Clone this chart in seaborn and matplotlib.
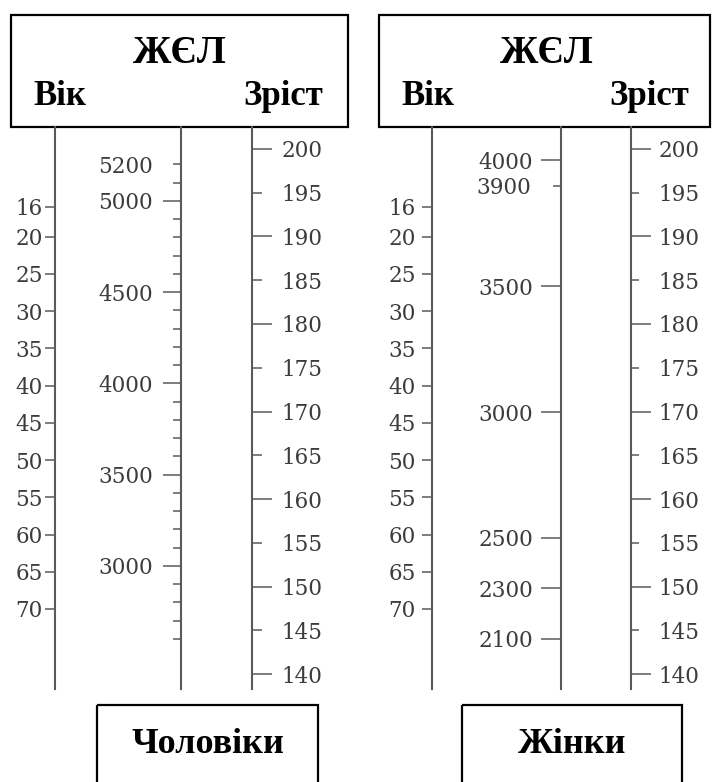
import matplotlib
matplotlib.use("Agg")
import matplotlib.pyplot as plt
import seaborn as sns
from matplotlib.ticker import FixedLocator, FuncFormatter
from matplotlib.patches import Rectangle

# --- nomogram scales ---
age_ticks = [16, 20, 25, 30, 35, 40, 45, 50, 55, 60, 65, 70]

men_vc_major = [5000, 4500, 4000, 3500, 3000]
men_vc_minor = [2600, 2700, 2800, 2900, 3100, 3200, 3300, 3400, 3600, 3700,
                3800, 3900, 4100, 4200, 4300, 4400, 4600, 4700, 4800, 4900,
                5100, 5200]
men_vc_minor_labels = [5200]

women_vc_major = [4000, 3500, 3000, 2500, 2300, 2100]
women_vc_minor = [3900]
women_vc_minor_labels = [3900]

height_major = [200, 190, 180, 170, 160, 150, 140]
height_minor = [195, 185, 175, 165, 155, 145]

panel_titles = ["Чоловіки", "Жінки"]
header_title = "ЖЄЛ"
header_left = "Вік"
header_right = "Зріст"

# --- layout ---
W, H = 712, 782
SCALE_TOP, SCALE_BOTTOM = 127, 689
LINE = "#5a5a5a"
TEXT = "#3c3c3c"
HEAD_FONT = ["Liberation Serif", "DejaVu Serif"]

sns.set_theme(style="ticks")
plt.rcParams["font.family"] = ["DejaVu Serif"]

fig = plt.figure(figsize=(W / 100, H / 100), dpi=100)
fig.patch.set_facecolor("white")

# overlay in pixel units for boxes and headings
over = fig.add_axes([0, 0, 1, 1])
over.set_xlim(0, W)
over.set_ylim(H, 0)
over.axis("off")


def pt(px):
    return px * 0.72


def draw_scale(x, lim, major, minor, side, major_len, major_pad,
               minor_len=0, minor_pad=0, minor_labels=()):
    ax = fig.add_axes([x / W, 1 - SCALE_BOTTOM / H, 0.0001,
                       (SCALE_BOTTOM - SCALE_TOP) / H])
    ax.patch.set_visible(False)
    ax.set_ylim(*lim)
    ax.set_xticks([])
    ax.yaxis.set_major_locator(FixedLocator(major))
    ax.yaxis.set_minor_locator(FixedLocator(minor))
    ax.yaxis.set_major_formatter(FuncFormatter(lambda v, p: f"{v:.0f}"))
    ax.yaxis.set_minor_formatter(
        FuncFormatter(lambda v, p: f"{v:.0f}" if v in minor_labels else ""))
    if side == "right":
        sns.despine(ax=ax, left=True, right=False, top=True, bottom=True)
        ax.tick_params(axis="y", which="both", left=False, right=True,
                       labelleft=False, labelright=True)
    else:
        sns.despine(ax=ax, left=False, right=True, top=True, bottom=True)
        ax.tick_params(axis="y", which="both", left=True, right=False,
                       labelleft=True, labelright=False)
    ax.spines[side].set(color=LINE, linewidth=1.5)
    ax.tick_params(axis="y", which="major", length=pt(major_len),
                   pad=pt(major_pad), width=1.1, color=LINE,
                   labelcolor=TEXT, labelsize=15.5)
    ax.tick_params(axis="y", which="minor", length=pt(minor_len),
                   pad=pt(minor_pad), width=1.1, color=LINE,
                   labelcolor=TEXT, labelsize=15.5)
    return ax


AGE_LIM = (80.75, 5.26)
HEIGHT_LIM = (138.3, 202.5)

# men
draw_scale(55, AGE_LIM, age_ticks, [], "left", 10, 2)
draw_scale(181, (2326, 5405), men_vc_major, men_vc_minor, "left", 18, 10,
           8, 20, men_vc_minor_labels)
draw_scale(252, HEIGHT_LIM, height_major, height_minor, "right", 20, 9,
           10, 19, height_minor)

# women
draw_scale(432, AGE_LIM, age_ticks, [], "left", 10, 6)
draw_scale(561, (1900, 4133), women_vc_major, women_vc_minor, "left", 20, 8,
           8, 22, women_vc_minor_labels)
draw_scale(631, HEIGHT_LIM, height_major, height_minor, "right", 20, 7,
           8, 19, height_minor)

# header boxes
for x0, x1, cx, lx, rx in [(11, 348, 180, 33, 323), (379, 710, 547, 401, 689)]:
    over.add_patch(Rectangle((x0, 15), x1 - x0, 112, fill=False,
                             edgecolor="black", linewidth=1.6))
    over.text(cx, 63, header_title, ha="center", va="baseline", color="black",
              fontsize=28, fontweight="bold", family=HEAD_FONT)
    over.text(lx, 105, header_left, ha="left", va="baseline", color="black",
              fontsize=25, fontweight="bold", family=HEAD_FONT)
    over.text(rx, 105, header_right, ha="right", va="baseline", color="black",
              fontsize=25, fontweight="bold", family=HEAD_FONT)

# bottom boxes
for (x0, x1), title in zip([(97, 318), (462, 682)], panel_titles):
    over.add_patch(Rectangle((x0, 705), x1 - x0, 100, fill=False,
                             edgecolor="black", linewidth=1.6, clip_on=False))
    over.text((x0 + x1) / 2, 753, title, ha="center", va="baseline",
              color="black", fontsize=26, fontweight="bold", family=HEAD_FONT)

fig.savefig("out.png", dpi=100)
